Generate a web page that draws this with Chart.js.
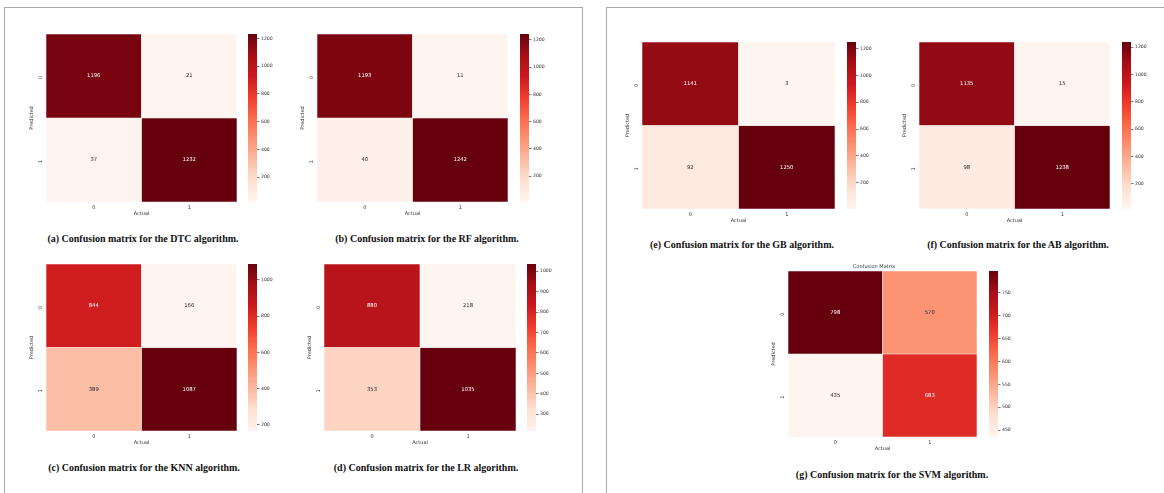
<!DOCTYPE html>
<html>
<head>
<meta charset="utf-8">
<script src="https://cdn.jsdelivr.net/npm/chart.js@4/dist/chart.umd.min.js"></script>
<style>
  html, body { margin: 0; padding: 0; background: #fff; }
  body { position: relative; width: 1164px; height: 493px; overflow: hidden; }
  .frame { position: absolute; border: 1px solid #a8a8a8; border-bottom: none; box-sizing: border-box; }
  .cap { position: absolute; white-space: nowrap; transform: translate(-50%, -50%);
         font: bold 10px "Liberation Serif", "Times New Roman", serif; color: #111; }
  canvas { position: absolute; }
</style>
</head>
<body>
<div class="frame" style="left:4px; top:7px; width:579px; height:486px;"></div>
<div class="frame" style="left:606px; top:7px; width:570px; height:486px;"></div>

<script>
// Class labels shared by both axes of every matrix
const classLabels = ['0', '1'];

// Confusion matrices: rows = predicted class, columns = actual class
const dtcMatrix = [[1196, 21], [37, 1232]];
const rfMatrix  = [[1193, 11], [40, 1242]];
const knnMatrix = [[844, 166], [389, 1087]];
const lrMatrix  = [[880, 218], [353, 1035]];
const gbMatrix  = [[1141, 3], [92, 1250]];
const abMatrix  = [[1135, 15], [98, 1238]];
const svmMatrix = [[798, 570], [435, 683]];

// Colour-bar tick labels
const dtcTicks = [200, 400, 600, 800, 1000, 1200];
const rfTicks  = [200, 400, 600, 800, 1000, 1200];
const knnTicks = [200, 400, 600, 800, 1000];
const lrTicks  = [300, 400, 500, 600, 700, 800, 900, 1000];
const gbTicks  = [200, 400, 600, 800, 1000, 1200];
const abTicks  = [200, 400, 600, 800, 1000, 1200];
const svmTicks = [450, 500, 550, 600, 650, 700, 750];

// Captions
const captions = [
  '(a) Confusion matrix for the DTC algorithm.',
  '(b) Confusion matrix for the RF algorithm.',
  '(c) Confusion matrix for the KNN algorithm.',
  '(d) Confusion matrix for the LR algorithm.',
  '(e) Confusion matrix for the GB algorithm.',
  '(f) Confusion matrix for the AB algorithm.',
  '(g) Confusion matrix for the SVM algorithm.'
];
const svmTitle = 'Confusion Matrix';

// Placement of each heatmap: plot box [left, top, width, height], colour-bar left, caption centre
const layout = [
  { m: dtcMatrix, t: dtcTicks, box: [46, 34, 191, 168],  cb: 248,  cap: [143, 238] },
  { m: rfMatrix,  t: rfTicks,  box: [317, 34, 191, 168], cb: 520,  cap: [427, 238] },
  { m: knnMatrix, t: knnTicks, box: [46, 264, 191, 167], cb: 248,  cap: [144, 467] },
  { m: lrMatrix,  t: lrTicks,  box: [324, 264, 192, 167], cb: 527, cap: [426, 467] },
  { m: gbMatrix,  t: gbTicks,  box: [642, 42, 193, 167], cb: 847,  cap: [742, 244] },
  { m: abMatrix,  t: abTicks,  box: [919, 42, 191, 167], cb: 1122, cap: [1018, 244] },
  { m: svmMatrix, t: svmTicks, box: [788, 271, 189, 166], cb: 989, cap: [892, 474], title: svmTitle }
];

// Sequential "Reds" colour ramp
const redsStops = ['#fff5f0', '#fee0d2', '#fcbba1', '#fc9272', '#fb6a4a', '#ef3b2c', '#cb181d', '#a50f15', '#67000d'];
const hexRgb = h => [1, 3, 5].map(i => parseInt(h.substr(i, 2), 16));
function reds(t) {
  t = Math.min(1, Math.max(0, t));
  const q = Math.floor(t * 255) / 255;          // 256-level lookup table
  const p = q * (redsStops.length - 1);
  const i = Math.min(redsStops.length - 2, Math.floor(p));
  const f = p - i;
  const a = hexRgb(redsStops[i]), b = hexRgb(redsStops[i + 1]);
  return a.map((c, k) => c + (b[k] - c) * f);
}
const rgbStr = c => `rgb(${c.map(Math.round).join(',')})`;
function luminance(c) {
  const l = c.map(v => { v /= 255; return v <= 0.03928 ? v / 12.92 : Math.pow((v + 0.055) / 1.055, 2.4); });
  return 0.2126 * l[0] + 0.7152 * l[1] + 0.0722 * l[2];
}

const FONT = 'DejaVu Sans';
const INK = '#333';
const YW = 17, XH = 16, CBW = 9, CBAXIS = 30;

// Writes each count in the middle of its cell
const cellText = {
  id: 'cellText',
  afterDatasetsDraw(chart) {
    const ctx = chart.ctx;
    ctx.save();
    ctx.font = `5.3px "${FONT}"`;
    ctx.textAlign = 'center';
    ctx.textBaseline = 'middle';
    chart.data.datasets.forEach((ds, di) => {
      chart.getDatasetMeta(di).data.forEach((bar, i) => {
        const { x, y, base } = bar.getProps(['x', 'y', 'base'], true);
        ctx.fillStyle = ds.textColors[i];
        ctx.fillText(String(ds.values[i]), x, (y + base) / 2);
      });
    });
    ctx.restore();
  }
};

function addCanvas(left, top, w, h) {
  const c = document.createElement('canvas');
  c.width = w; c.height = h;
  c.style.left = left + 'px'; c.style.top = top + 'px';
  c.style.width = w + 'px'; c.style.height = h + 'px';
  document.body.appendChild(c);
  return c;
}

layout.forEach((p, idx) => {
  const [l, t, w, h] = p.box;
  const flat = p.m.flat();
  const vmin = Math.min(...flat), vmax = Math.max(...flat);
  const titleH = p.title ? 7 : 0;

  // Heatmap: one floating-bar dataset per predicted row, spanning that row on the y scale
  const datasets = p.m.map((row, r) => {
    const cols = row.map(v => reds((v - vmin) / (vmax - vmin)));
    return {
      label: 'Predicted ' + classLabels[r],
      data: row.map(() => [r, r + 1]),
      values: row,
      backgroundColor: cols.map(rgbStr),
      textColors: cols.map(c => luminance(c) > 0.408 ? '#262626' : '#ffffff'),
      borderColor: 'rgba(255,255,255,0.45)',
      borderWidth: 0.6,
      borderSkipped: false,
      barPercentage: 1,
      categoryPercentage: 1,
      grouped: false
    };
  });

  const hmCanvas = addCanvas(l - YW, t - titleH, YW + w + 2, titleH + h + XH);
  new Chart(hmCanvas, {
    type: 'bar',
    data: { labels: classLabels, datasets },
    plugins: [cellText],
    options: {
      responsive: false,
      animation: false,
      devicePixelRatio: 1,
      layout: { padding: { left: 0, right: 2, top: 0, bottom: 0 } },
      plugins: {
        legend: { display: false },
        tooltip: { enabled: false },
        title: {
          display: !!p.title, text: p.title || '',
          font: { family: FONT, size: 5, weight: 'normal' }, color: INK,
          padding: { top: 0, bottom: 1 }
        }
      },
      scales: {
        x: {
          type: 'category', offset: true,
          grid: { display: false, drawTicks: false }, border: { display: false },
          ticks: { font: { family: FONT, size: 5 }, color: INK, padding: 3 },
          title: { display: true, text: 'Actual', font: { family: FONT, size: 5 }, color: INK, padding: { top: 0, bottom: 1.5 } },
          afterFit: s => { s.height = XH; s.paddingLeft = 0; s.paddingRight = 0; }
        },
        y: {
          type: 'linear', min: 0, max: 2, reverse: true,
          grid: { display: false, drawTicks: false }, border: { display: false },
          afterBuildTicks: s => { s.ticks = classLabels.map((_, i) => ({ value: i + 0.5 })); },
          ticks: {
            font: { family: FONT, size: 5 }, color: INK, padding: 5,
            minRotation: 90, maxRotation: 90,
            callback: (v, i) => classLabels[i]
          },
          title: { display: true, text: 'Predicted', font: { family: FONT, size: 5 }, color: INK, padding: { top: 0, bottom: 0 } },
          afterFit: s => { s.width = YW; s.paddingTop = 0; s.paddingBottom = 0; }
        }
      }
    }
  });

  // Colour bar: a single floating bar from vmin to vmax filled with the ramp
  const cbCanvas = addCanvas(p.cb, t, CBW + CBAXIS, h);
  new Chart(cbCanvas, {
    type: 'bar',
    data: {
      labels: [''],
      datasets: [{
        data: [[vmin, vmax]],
        backgroundColor: ctx => {
          const a = ctx.chart.chartArea;
          if (!a) return rgbStr(reds(0.5));
          const g = ctx.chart.ctx.createLinearGradient(0, a.bottom, 0, a.top);
          for (let k = 0; k <= 32; k++) g.addColorStop(k / 32, rgbStr(reds(k / 32)));
          return g;
        },
        borderWidth: 0,
        barPercentage: 1,
        categoryPercentage: 1
      }]
    },
    options: {
      responsive: false,
      animation: false,
      devicePixelRatio: 1,
      layout: { padding: 0 },
      plugins: { legend: { display: false }, tooltip: { enabled: false } },
      scales: {
        x: { display: false, offset: true },
        y: {
          position: 'right', min: vmin, max: vmax,
          afterBuildTicks: s => { s.ticks = p.t.map(v => ({ value: v })); },
          grid: { drawOnChartArea: false, drawTicks: true, tickLength: 2.5, color: '#444', lineWidth: 0.7 },
          border: { display: false },
          ticks: { font: { family: FONT, size: 4.6 }, color: INK, padding: 1.5, callback: v => String(v) },
          afterFit: s => { s.width = CBAXIS; s.paddingTop = 0; s.paddingBottom = 0; }
        }
      }
    }
  });

  const cap = document.createElement('div');
  cap.className = 'cap';
  cap.textContent = captions[idx];
  cap.style.left = p.cap[0] + 'px';
  cap.style.top = p.cap[1] + 'px';
  document.body.appendChild(cap);
});
</script>
</body>
</html>
